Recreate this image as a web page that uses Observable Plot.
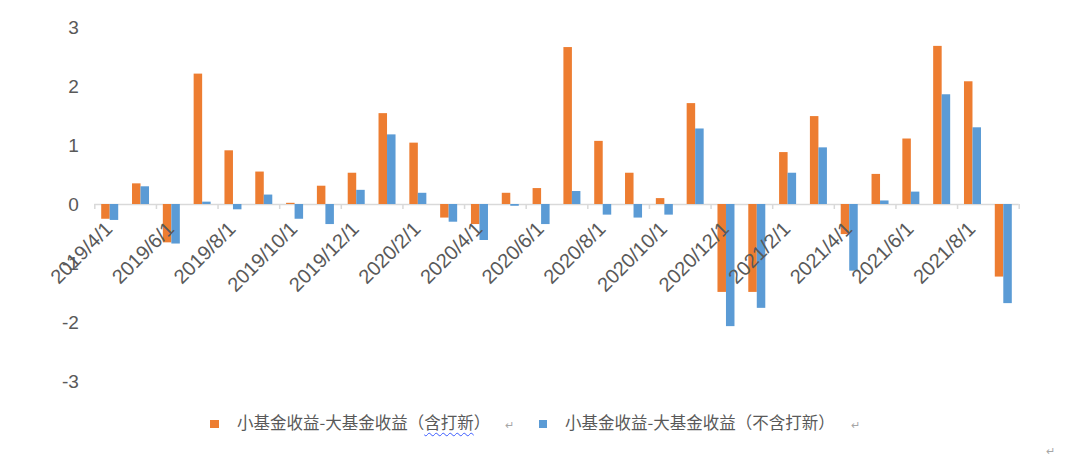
<!DOCTYPE html>
<html><head><meta charset="utf-8">
<script src="https://cdn.jsdelivr.net/npm/d3@7"></script>
<script src="https://cdn.jsdelivr.net/npm/@observablehq/plot@0.6"></script>
<style>
body{margin:0;background:#fff;}
#wrap{position:relative;width:1080px;height:465px;overflow:hidden;}
#legend{position:relative;width:1080px;height:65px;font-family:"Noto Sans CJK SC","Noto Sans",sans-serif;font-size:16.5px;color:#595959;}
#legend .sw{position:absolute;width:8.5px;height:8.5px;top:19.5px;}
#legend .lt{position:absolute;top:12px;line-height:20px;white-space:nowrap;}
#legend .rt{position:absolute;top:14px;font-size:11px;color:#a6a6a6;line-height:20px;}
</style></head><body><div id="wrap"></div>
<script>
const months = ["2019/4/1","2019/5/1","2019/6/1","2019/7/1","2019/8/1","2019/9/1","2019/10/1","2019/11/1","2019/12/1",
  "2020/1/1","2020/2/1","2020/3/1","2020/4/1","2020/5/1","2020/6/1","2020/7/1","2020/8/1","2020/9/1","2020/10/1","2020/11/1","2020/12/1",
  "2021/1/1","2021/2/1","2021/3/1","2021/4/1","2021/5/1","2021/6/1","2021/7/1","2021/8/1","2021/9/1"];
const withIPO = [-0.25,0.35,-0.65,2.21,0.91,0.55,0.02,0.31,0.53,1.54,1.04,-0.23,-0.34,0.19,0.27,2.66,1.07,0.53,0.10,1.71,-1.49,-1.49,0.88,1.49,-0.51,0.51,1.11,2.68,2.08,-1.23];
const withoutIPO = [-0.27,0.30,-0.67,0.04,-0.09,0.16,-0.25,-0.34,0.24,1.18,0.19,-0.30,-0.61,-0.03,-0.34,0.22,-0.18,-0.23,-0.18,1.28,-2.07,-1.76,0.53,0.96,-1.13,0.06,0.21,1.86,1.30,-1.68];
const tickLabels = months.filter((d, i) => i % 2 === 0);
const yTicks = [-3, -2, -1, 0, 1, 2, 3];
const seriesNames = ["小基金收益-大基金收益（含打新）", "小基金收益-大基金收益（不含打新）"];
const colors = ["#ED7D31", "#5B9BD5"];

const rows = months.map((m, i) => ({month: m, a: withIPO[i], b: withoutIPO[i]}));

const W = 1080, H = 400, mL = 94.3, mR = 1080 - 1018.7;
const step = (W - mL - mR) / months.length;
const padIn = 0.724;
const bw = step * (1 - padIn);
const axisColor = "#d9d9d9";
const textColor = "#595959";

const chart = Plot.plot({
  width: W, height: H,
  marginLeft: mL, marginRight: mR, marginTop: 27, marginBottom: 19,
  style: {fontFamily: "'Liberation Sans', Arial, sans-serif", background: "#fff"},
  x: {type: "band", domain: months, paddingInner: padIn, paddingOuter: padIn / 2, round: false, axis: null},
  y: {domain: [-3, 3], axis: null},
  marks: [
    Plot.ruleY([0], {stroke: axisColor, strokeWidth: 1.5}),
    Plot.ruleX(tickLabels, {x: d => d, y1: () => 0, y2: () => 0, insetBottom: -5, dx: -step / 2, stroke: axisColor, strokeWidth: 1.5}),
    Plot.ruleX([months[months.length - 1]], {x: d => d, y1: () => 0, y2: () => 0, insetBottom: -5, dx: step / 2, stroke: axisColor, strokeWidth: 1.5}),
    Plot.barY(rows, {x: "month", y: "a", fill: colors[0], dx: -bw / 2}),
    Plot.barY(rows, {x: "month", y: "b", fill: colors[1], dx: bw / 2}),
    Plot.axisY(yTicks, {tickSize: 0, tickPadding: 16, tickFormat: d => String(d), fontSize: 19, fill: textColor, anchor: "left"}),
    Plot.text(tickLabels, {x: d => d, y: () => 0, text: d => d, rotate: -45, textAnchor: "end", fontSize: 20, fill: textColor, dx: -1, dy: 21})
  ]
});

const wrap = document.getElementById("wrap");
wrap.appendChild(chart);

const legend = document.createElement("div");
legend.id = "legend";
function addItem(color, name, swX, txtX, retX, underline) {
  const sw = document.createElement("span");
  sw.className = "sw"; sw.style.left = swX + "px"; sw.style.background = color;
  legend.appendChild(sw);
  const t = document.createElement("span");
  t.className = "lt"; t.style.left = txtX + "px";
  if (underline) {
    const idx = name.indexOf(underline);
    t.appendChild(document.createTextNode(name.slice(0, idx)));
    const u = document.createElement("span");
    u.textContent = underline;
    u.style.textDecoration = "underline wavy #3b5bff";
    u.style.textDecorationThickness = "1px";
    u.style.textUnderlineOffset = "3px";
    t.appendChild(u);
    t.appendChild(document.createTextNode(name.slice(idx + underline.length)));
  } else {
    t.textContent = name;
  }
  legend.appendChild(t);
  const r = document.createElement("span");
  r.className = "rt"; r.style.left = retX + "px"; r.textContent = "↵";
  legend.appendChild(r);
}
addItem(colors[0], seriesNames[0], 210, 237, 505, "含打新");
addItem(colors[1], seriesNames[1], 538.5, 565, 851, null);
const ret = document.createElement("span");
ret.className = "rt"; ret.style.left = "1046px"; ret.style.top = "40px"; ret.textContent = "↵";
legend.appendChild(ret);
wrap.appendChild(legend);
</script></body></html>
